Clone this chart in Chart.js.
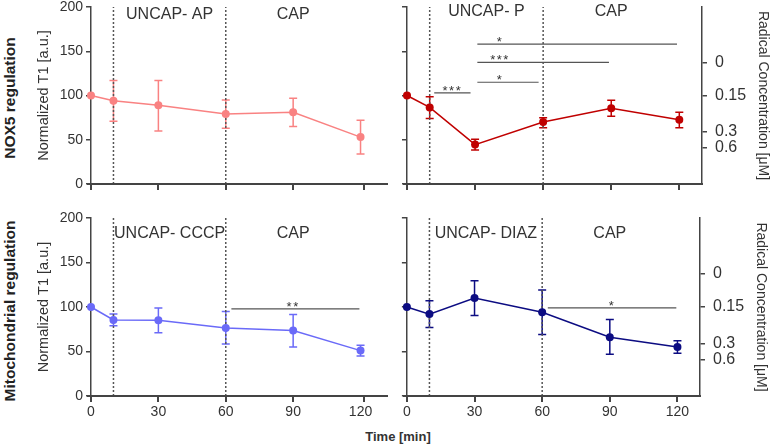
<!DOCTYPE html>
<html><head><meta charset="utf-8">
<script src="https://cdn.jsdelivr.net/npm/chart.js@4.4.1/dist/chart.umd.min.js"></script>
<style>
html,body{margin:0;padding:0;background:#fff;}
body{width:771px;height:445px;overflow:hidden;position:relative;font-family:'Liberation Sans',Arial,sans-serif;color:#222;}
.pane{position:absolute;}
.pane canvas{position:absolute;left:0;top:0;}
.axl{position:absolute;background:#444;z-index:6;}
.lab{position:absolute;white-space:nowrap;transform:translate(-50%,-50%);}
.rot{transform:translate(-50%,-50%) rotate(-90deg);}
</style></head><body>
<div class="lab rot" style="left:10px;top:97.5px;font-weight:bold;font-size:15.5px;">NOX5 regulation</div>
<div class="lab rot" style="left:10px;top:311px;font-weight:bold;font-size:15.5px;">Mitochondrial regulation</div>
<div class="lab" style="left:398px;top:436px;font-weight:bold;font-size:13px;color:#333;">Time [min]</div>
<script>
// ---------- data ----------
const timePoints = [0, 10, 30, 60, 90, 120];
const xTickValues = [0, 30, 60, 90, 120];
const yTickValues = [0, 50, 100, 150, 200];
const phaseEdges = [10, 60, 120];
const radicalTickLabels = ['0.6', '0.3', '0.15', '0'];
const radicalTickValues = [41, 59, 100, 137];

const apLabels = ['UNCAP- AP', 'CAP'];
const apMean = [100, 94, 89, 79, 81, 53];
const apLow  = [100, 71, 60, 63, 65, 34];
const apHigh = [100, 117, 117, 95, 97, 72];

const pLabels = ['UNCAP- P', 'CAP'];
const pMean = [100, 86.5, 44.5, 70, 85.5, 72.5];
const pLow  = [100, 74, 38.5, 63.5, 76.5, 63.5];
const pHigh = [100, 98.5, 50.5, 75, 94.5, 81];
const pSigFrom = [12, 31, 31, 31];
const pSigTo   = [28, 58, 89, 119];
const pSigY    = [103, 115, 137.5, 158];
const pSigStar = ['***', '*', '***', '*'];
const pSigAt   = [20, 41, 41, 41];

const ccLabels = ['UNCAP- CCCP', 'CAP'];
const ccMean = [100, 85.5, 85, 76.5, 73.5, 51];
const ccLow  = [100, 79, 71, 58.5, 55, 45];
const ccHigh = [100, 92, 99, 95, 91.5, 57];
const ccSigFrom = [62.5], ccSigTo = [119.5], ccSigY = [98], ccSigStar = ['**'], ccSigAt = [90];

const dzLabels = ['UNCAP- DIAZ', 'CAP'];
const dzMean = [100, 92, 110, 94, 66, 55];
const dzLow  = [100, 77, 90.5, 69, 47, 48];
const dzHigh = [100, 107, 129.5, 119, 86, 62];
const dzSigFrom = [62.5], dzSigTo = [119.5], dzSigY = [99], dzSigStar = ['*'], dzSigAt = [91];

// ---------- drawing ----------
Chart.defaults.font.family = "'Liberation Sans', Arial, sans-serif";
Chart.defaults.color = '#333';
const AX = '#444';
const PADT = 24;

const annotPlugin = {
  id: 'annot',
  beforeDatasetsDraw(chart) {
    const {ctx} = chart, xs = chart.scales.x, ys = chart.scales.y;
    ctx.save();
    ctx.setLineDash([]);
    chart.data.datasets.forEach(ds => {
      if (!ds.errLow) return;
      ctx.strokeStyle = ds.borderColor; ctx.lineWidth = 1.5;
      ds.data.forEach((p, i) => {
        const lo = ds.errLow[i], hi = ds.errHigh[i];
        if (lo === hi) return;
        const px = xs.getPixelForValue(p.x);
        const y1 = ys.getPixelForValue(lo), y2 = ys.getPixelForValue(hi);
        ctx.beginPath();
        ctx.moveTo(px, y1); ctx.lineTo(px, y2);
        ctx.moveTo(px - 4, y1); ctx.lineTo(px + 4, y1);
        ctx.moveTo(px - 4, y2); ctx.lineTo(px + 4, y2);
        ctx.stroke();
      });
    });
    ctx.restore();
  },
  afterDatasetsDraw(chart) {
    const o = chart.options.plugins.annot;
    const {ctx, chartArea} = chart, xs = chart.scales.x, ys = chart.scales.y;
    ctx.save();
    ctx.fillStyle = '#333';
    ctx.font = "16px 'Liberation Sans', Arial, sans-serif";
    ctx.textAlign = 'center'; ctx.textBaseline = 'middle';
    const mids = [(phaseEdges[0] + phaseEdges[1]) / 2, (phaseEdges[1] + phaseEdges[2]) / 2];
    o.labels.forEach((t, i) => ctx.fillText(t, xs.getPixelForValue(mids[i]), chartArea.top + o.labelDy));
    ctx.font = "13px 'Liberation Sans', Arial, sans-serif";
    ctx.textBaseline = 'alphabetic';
    try { ctx.letterSpacing = '1.5px'; } catch (e) {}
    o.stars.forEach((s, i) => ctx.fillText(s, xs.getPixelForValue(o.starAt[i]), ys.getPixelForValue(o.starY[i]) + 2));
    ctx.restore();
  }
};

// x axis line + tick marks as elements placed from the chart's own scale pixels
function addXAxis(chart, div, cfg, divLeft, divTop) {
  const xs = chart.scales.x, ys = chart.scales.y;
  const pick = (v, expected) => (isFinite(v) && Math.abs(v - expected) <= 3) ? v : expected;
  const yb = Math.round(pick(ys.getPixelForValue(0), cfg.area.b - divTop));
  const x0 = pick(xs.getPixelForValue(0), cfg.area.l - divLeft);
  const x1 = pick(xs.getPixelForValue(130), cfg.area.r - divLeft);
  const line = document.createElement('div');
  line.className = 'axl';
  line.style.left = (x0 - 4) + 'px';
  line.style.top = (yb - 1) + 'px';
  line.style.width = (x1 - x0 + 5) + 'px';
  line.style.height = '1.5px';
  div.appendChild(line);
  xTickValues.forEach(v => {
    const px = pick(xs.getPixelForValue(v), cfg.area.l - divLeft + (v / 130) * (cfg.area.r - cfg.area.l));
    const t = document.createElement('div');
    t.className = 'axl';
    t.style.left = (Math.round(px) - 0.75) + 'px';
    t.style.top = yb + 'px';
    t.style.width = '1.5px';
    t.style.height = '6px';
    div.appendChild(t);
  });
}

function makePanel(cfg) {
  const w = cfg.leftW + (cfg.area.r - cfg.area.l) + cfg.rightW;
  const h = PADT + (cfg.area.b - cfg.area.t) + cfg.bottomH;
  const div = document.createElement('div');
  div.className = 'pane';
  div.style.left = (cfg.area.l - cfg.leftW) + 'px';
  div.style.top = (cfg.area.t - PADT) + 'px';
  div.style.width = w + 'px'; div.style.height = h + 'px';
  div.style.zIndex = String(cfg.z);
  const canvas = document.createElement('canvas');
  canvas.width = w; canvas.height = h;
  canvas.style.width = w + 'px'; canvas.style.height = h + 'px';
  div.appendChild(canvas);
  document.body.appendChild(div);

  const datasets = [{
    type: 'line', data: timePoints.map((t, i) => ({x: t, y: cfg.mean[i]})),
    errLow: cfg.low, errHigh: cfg.high,
    borderColor: cfg.color, backgroundColor: cfg.color, borderWidth: 1.5,
    pointRadius: 4, pointBorderWidth: 0, pointHoverRadius: 4, clip: false, order: 0
  }];
  [phaseEdges[0], phaseEdges[1]].forEach(b => datasets.push({
    type: 'line', data: [{x: b, y: 0}, {x: b, y: 200}], borderColor: '#555', borderWidth: 1.5,
    borderDash: [2, 2], pointRadius: 0, clip: false, order: 2
  }));
  cfg.sigFrom.forEach((f, i) => datasets.push({
    type: 'line', data: [{x: f, y: cfg.sigY[i]}, {x: cfg.sigTo[i], y: cfg.sigY[i]}],
    borderColor: '#555', borderWidth: 1.2, pointRadius: 0, clip: false, order: 1
  }));

  const scales = {
    x: {
      type: 'linear', min: 0, max: 130,
      afterBuildTicks: s => { s.ticks = xTickValues.map(v => ({value: v})); },
      ticks: {display: cfg.showX, font: {size: 14}, color: '#333', padding: 8, maxRotation: 0},
      grid: {display: false, drawOnChartArea: false, drawTicks: false},
      border: {display: false},
      afterFit: s => { s.height = cfg.bottomH; }
    },
    y: {
      type: 'linear', position: 'left', min: 0, max: 200,
      afterBuildTicks: s => { s.ticks = yTickValues.map(v => ({value: v})); },
      ticks: {display: cfg.showY, font: {size: 14}, color: '#333', padding: 3},
      grid: {drawOnChartArea: false, drawTicks: true, tickLength: 5, color: AX, lineWidth: 1.5},
      border: {display: true, color: AX, width: 1.5},
      title: cfg.showY ? {display: true, text: 'Normalized T1 [a.u.]', font: {size: 14.5, lineHeight: 1}, color: '#333', padding: {top: 37, bottom: 0}} : {display: false},
      afterFit: s => { s.width = cfg.leftW; }
    }
  };
  if (cfg.showRight) {
    scales.yR = {
      type: 'linear', position: 'right', min: 0, max: 200,
      afterBuildTicks: s => { s.ticks = radicalTickValues.map(v => ({value: v})); },
      ticks: {display: true, font: {size: 16}, color: '#333', padding: 8, autoSkip: false,
        callback: (v, i) => radicalTickLabels[i]},
      grid: {drawOnChartArea: false, drawTicks: true, tickLength: 5, color: AX, lineWidth: 1.5},
      border: {display: true, color: AX, width: 1.5},
      title: {display: true, text: 'Radical Concentration [μM]', font: {size: 14, lineHeight: 1}, color: '#333', padding: {top: 1, bottom: 0}},
      afterFit: s => { s.width = cfg.rightW; }
    };
  }

  const chart = new Chart(canvas, {
    type: 'line',
    data: {datasets},
    options: {
      responsive: false, animation: false, events: [],
      layout: {padding: {top: PADT, left: 0, right: 0, bottom: 0}},
      plugins: {
        legend: {display: false}, tooltip: {enabled: false},
        annot: {labels: cfg.labels, labelDy: cfg.labelDy, stars: cfg.sigStar, starAt: cfg.sigAt, starY: cfg.sigY}
      },
      scales
    },
    plugins: [annotPlugin]
  });
  const ca = chart.chartArea;
  const dx = isFinite(ca.left) ? ca.left - cfg.leftW : 0;
  const dy = isFinite(ca.top) ? ca.top - PADT : 0;
  const divLeft = cfg.area.l - cfg.leftW - dx;
  const divTop = cfg.area.t - PADT - dy;
  div.style.left = divLeft + 'px';
  div.style.top = divTop + 'px';
  addXAxis(chart, div, cfg, divLeft, divTop);
  return chart;
}

makePanel({area: {l: 91, t: 7, r: 387, b: 184}, leftW: 91, rightW: 0, bottomH: 24, z: 4,
  showX: false, showY: true, showRight: false, color: '#f98282',
  mean: apMean, low: apLow, high: apHigh, labels: apLabels, labelDy: 8,
  sigFrom: [], sigTo: [], sigY: [], sigStar: [], sigAt: []});
makePanel({area: {l: 407, t: 7, r: 702, b: 184}, leftW: 10, rightW: 69, bottomH: 24, z: 3,
  showX: false, showY: false, showRight: true, color: '#c00000',
  mean: pMean, low: pLow, high: pHigh, labels: pLabels, labelDy: 5,
  sigFrom: pSigFrom, sigTo: pSigTo, sigY: pSigY, sigStar: pSigStar, sigAt: pSigAt});
makePanel({area: {l: 91, t: 218, r: 387, b: 396}, leftW: 91, rightW: 0, bottomH: 30, z: 2,
  showX: true, showY: true, showRight: false, color: '#6a6af8',
  mean: ccMean, low: ccLow, high: ccHigh, labels: ccLabels, labelDy: 16,
  sigFrom: ccSigFrom, sigTo: ccSigTo, sigY: ccSigY, sigStar: ccSigStar, sigAt: ccSigAt});
makePanel({area: {l: 407, t: 218, r: 702, b: 396}, leftW: 10, rightW: 69, bottomH: 30, z: 1,
  showX: true, showY: false, showRight: true, color: '#0c0c82',
  mean: dzMean, low: dzLow, high: dzHigh, labels: dzLabels, labelDy: 16,
  sigFrom: dzSigFrom, sigTo: dzSigTo, sigY: dzSigY, sigStar: dzSigStar, sigAt: dzSigAt});
</script>
</body></html>
